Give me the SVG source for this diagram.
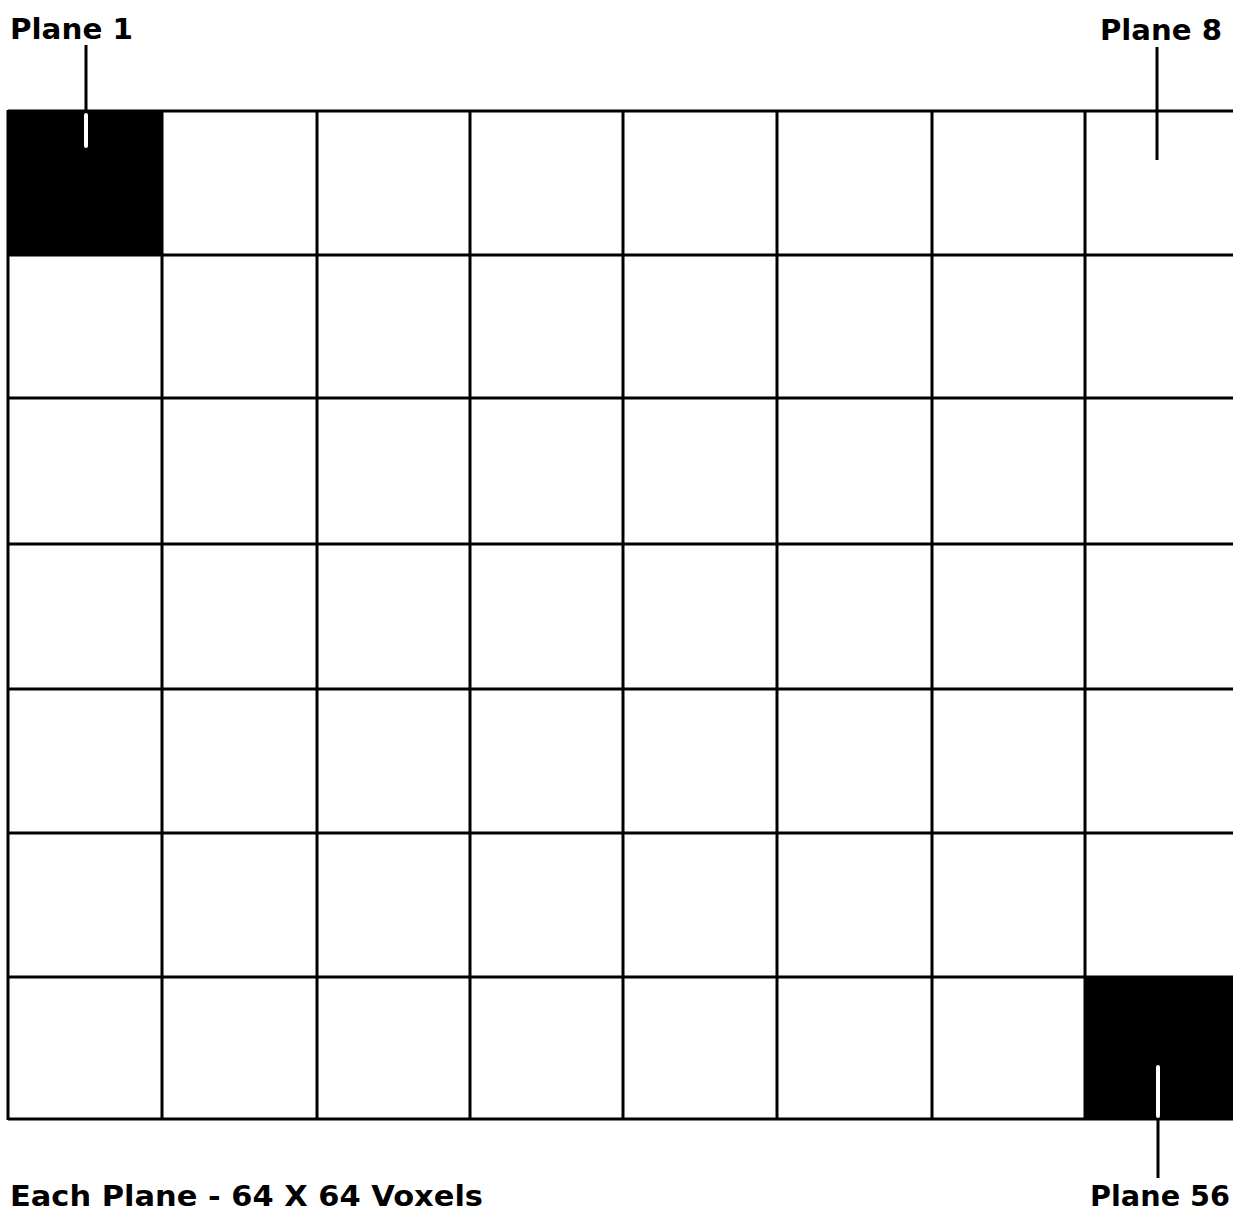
<svg xmlns="http://www.w3.org/2000/svg" width="1233" height="1212" viewBox="0 0 1233 1212">
<style>
.grid line{stroke:#000;stroke-width:3}
.lbl{font-family:"DejaVu Sans","Liberation Sans",sans-serif;font-weight:bold;font-size:29px;fill:#000}
.tick{stroke:#000;stroke-width:3}
.wtick{stroke:#fff;stroke-width:4;stroke-linecap:round}
</style>
<rect width="1233" height="1212" fill="#fff"/>
<g id="cell-plane1"><rect x="8" y="111" width="154" height="144" fill="#000"/></g>
<g id="cell-plane56"><rect x="1085" y="977" width="148" height="143" fill="#000"/></g>
<g id="grid" class="grid">
<line x1="8" y1="111" x2="1233" y2="111"/>
<line x1="8" y1="255" x2="1233" y2="255"/>
<line x1="8" y1="398" x2="1233" y2="398"/>
<line x1="8" y1="544" x2="1233" y2="544"/>
<line x1="8" y1="689" x2="1233" y2="689"/>
<line x1="8" y1="833" x2="1233" y2="833"/>
<line x1="8" y1="977" x2="1233" y2="977"/>
<line x1="8" y1="1119" x2="1233" y2="1119"/>
<line x1="8" y1="110" x2="8" y2="1120"/>
<line x1="162" y1="110" x2="162" y2="1120"/>
<line x1="317" y1="110" x2="317" y2="1120"/>
<line x1="470" y1="110" x2="470" y2="1120"/>
<line x1="623" y1="110" x2="623" y2="1120"/>
<line x1="777" y1="110" x2="777" y2="1120"/>
<line x1="932" y1="110" x2="932" y2="1120"/>
<line x1="1085" y1="110" x2="1085" y2="1120"/>
</g>
<g id="connectors">
<line class="tick" x1="86" y1="45" x2="86" y2="111"/>
<line class="wtick" x1="86" y1="115" x2="86" y2="146"/>
<line class="tick" x1="1157" y1="47" x2="1157" y2="160"/>
<line class="wtick" x1="1158" y1="1067" x2="1158" y2="1116"/>
<line class="tick" x1="1158" y1="1119" x2="1158" y2="1178"/>
</g>
<g id="label-plane1"><text class="lbl" x="10" y="39" textLength="123" lengthAdjust="spacingAndGlyphs">Plane 1</text></g>
<g id="label-plane8"><text class="lbl" x="1100" y="40" textLength="122" lengthAdjust="spacingAndGlyphs">Plane 8</text></g>
<g id="label-plane56"><text class="lbl" x="1090" y="1206" textLength="140" lengthAdjust="spacingAndGlyphs">Plane 56</text></g>
<g id="caption"><text class="lbl" x="10" y="1206" textLength="473" lengthAdjust="spacingAndGlyphs">Each Plane - 64 X 64 Voxels</text></g>
</svg>
